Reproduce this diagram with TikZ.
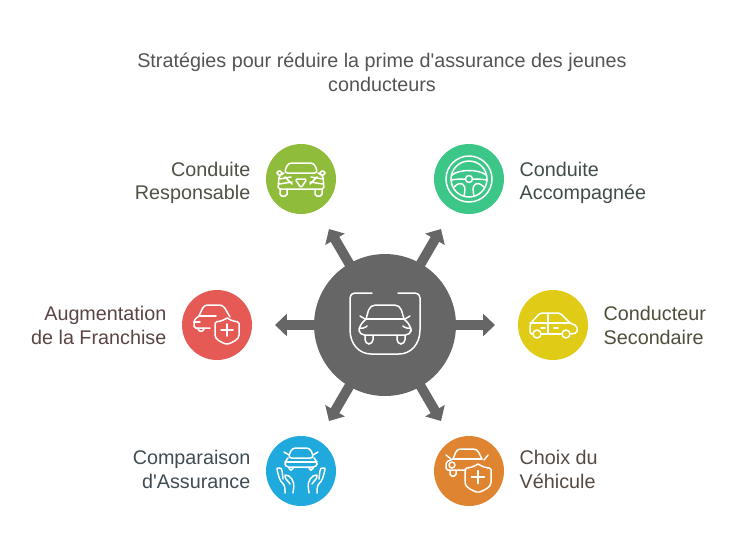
\documentclass[tikz,border=0pt]{standalone}
\usepackage{fontspec}
\setmainfont{Liberation Sans}[Ligatures=TeXOff]
\usetikzlibrary{arrows.meta,positioning}
\definecolor{hubgrey}{HTML}{666666}
\definecolor{discgreen}{HTML}{8FBC3A}
\definecolor{discteal}{HTML}{3CC687}
\definecolor{discred}{HTML}{E55A55}
\definecolor{discyellow}{HTML}{E0CC17}
\definecolor{discblue}{HTML}{1FA9DC}
\definecolor{discorange}{HTML}{DF8430}
\definecolor{textgreen}{HTML}{4F5145}
\definecolor{textteal}{HTML}{3F4D49}
\definecolor{textred}{HTML}{5A4444}
\definecolor{textyellow}{HTML}{4F4E3B}
\definecolor{textblue}{HTML}{3F4C53}
\definecolor{textorange}{HTML}{544A42}
\tikzset{
	disc/.style={circle, minimum size=1.4cm, inner sep=0pt},
	hub/.style={circle, minimum size=2.84cm, inner sep=0pt, fill=hubgrey},
	spoke/.style={draw=hubgrey, line width=5.6pt, shorten <=-3pt, -{Triangle[width=12.5pt,length=6.8pt]}},
	caption/.style={font=\fontsize{11.25}{13.6}\selectfont, inner sep=0pt},
	icon/.style={draw=white, line width=0.85pt, line cap=round, line join=round, rounded corners=1pt}
}
\def\shieldmark(#1,#2)(#3){
	\begin{scope}[shift={(#1,#2)}]
		\draw[icon] (0,-#3) .. controls (-#3*0.4,-#3*0.75) and (-#3*0.7,-#3*0.7) .. (-#3,-#3*0.7) -- (-#3,#3*0.3) .. controls (-#3,#3*0.8) and (-#3*0.4,#3*1.05) .. (0,#3*1.2) .. controls (#3*0.4,#3*1.05) and (#3,#3*0.8) .. (#3,#3*0.3) -- (#3,-#3*0.7) .. controls (#3*0.7,-#3*0.7) and (#3*0.4,-#3*0.75) .. (0,-#3);
		\draw[icon] (-#3*0.5,0) -- (#3*0.5,0) (0,-#3*0.5) -- (0,#3*0.5);
	\end{scope}
}
\begin{document}
\begin{tikzpicture}[x=0.02cm, y=-0.02cm]
	\useasboundingbox (0,0) rectangle (746,556);

	\node[font=\fontsize{11.25}{14}\selectfont, align=center, text=black!67] (title) at (382,72.5) {Stratégies pour réduire la prime d'assurance des jeunes\\conducteurs};

	%%%%% spokes and hub %%%%%
	\node[hub] (centre) at (385,325) {};
	\coordinate (tipgreen) at (329,229);
	\coordinate (tipteal) at (441,229);
	\coordinate (tipred) at (275,325);
	\coordinate (tipyellow) at (495,325);
	\coordinate (tipblue) at (329,421);
	\coordinate (tiporange) at (441,421);
	\foreach \tip in {tipgreen,tipteal,tipred,tipyellow,tipblue,tiporange}
		\draw[spoke] (centre) -- (\tip);

	%%%%% discs %%%%%
	\node[disc, fill=discgreen] (green) at (301,179) {};
	\node[disc, fill=discteal] (teal) at (469,179) {};
	\node[disc, fill=discred] (red) at (217,325) {};
	\node[disc, fill=discyellow] (yellow) at (553,325) {};
	\node[disc, fill=discblue] (blue) at (301,471) {};
	\node[disc, fill=discorange] (orange) at (469,471) {};

	%%%%% captions %%%%%
	\node[caption, left=0.3cm of green, yshift=-2.2pt, align=right, text=textgreen] (capgreen) {Conduite\\Responsable};
	\node[caption, right=0.3cm of teal, yshift=-2.2pt, align=left, text=textteal] (capteal) {Conduite\\Accompagnée};
	\node[caption, left=0.3cm of red, align=right, text=textred] (capred) {Augmentation\\de la Franchise};
	\node[caption, right=0.3cm of yellow, align=left, text=textyellow] (capyellow) {Conducteur\\Secondaire};
	\node[caption, left=0.3cm of blue, yshift=1.1pt, align=right, text=textblue] (capblue) {Comparaison\\d'Assurance};
	\node[caption, right=0.3cm of orange, yshift=1.1pt, align=left, text=textorange] (caporange) {Choix du\\Véhicule};

	%%%%% centre icon %%%%%
	\begin{scope}[shift={(385,325)}]
		\draw[icon] (-13,-32) -- (-32,-32) -- (-35,-29) -- (-35,3) .. controls (-35,19) and (-26,29) .. (-12,29) -- (12,29) .. controls (26,29) and (35,19) .. (35,3) -- (35,-29) -- (32,-32) -- (13,-32);
		\draw[icon, rounded corners=3pt] (-19,-6) -- (-15,-20) -- (15,-20) -- (19,-6);
		\draw[icon] (-19,-6) -- (19,-6);
		\draw[icon, rounded corners=3pt] (-19,-6) -- (-26,1) -- (-26,10) -- (26,10) -- (26,1) -- (19,-6);
		\draw[icon] (-26,3) -- (-20,3) -- (-18,1) (26,3) -- (20,3) -- (18,1);
		\draw[icon] (-25,-9) -- (-20,-6) (25,-9) -- (20,-6);
		\draw[icon, rounded corners=2.5pt] (-20,10) -- (-20,19) -- (-12,19) -- (-12,10);
		\draw[icon, rounded corners=2.5pt] (20,10) -- (20,19) -- (12,19) -- (12,10);
	\end{scope}

	%%%%% green car %%%%%
	\begin{scope}[shift={(301,179)}]
		\draw[icon, rounded corners=2pt] (-17,-6) -- (-13,-16) -- (13,-16) -- (17,-6) -- cycle;
		\draw[icon] (-17,-6) -- (-22,-3) -- (-23,10) -- (23,10) -- (22,-3) -- (17,-6);
		\draw[icon] (-24,-8) -- (-19,-8) -- (-19,-4) -- (-24,-4) -- cycle (24,-8) -- (19,-8) -- (19,-4) -- (24,-4) -- cycle;
		\draw[icon] (-6,0) -- (6,0) -- (0,9) -- cycle;
		\draw[icon] (-22,0) -- (-10,-2) (22,0) -- (10,-2) (-22,5) -- (-9,3) (22,5) -- (9,3) (-16,-2) -- (-9,5) (16,-2) -- (9,5);
		\draw[icon] (-21,10) -- (-21,17) -- (-14,17) -- (-14,10) (21,10) -- (21,17) -- (14,17) -- (14,10);
	\end{scope}

	%%%%% steering wheel %%%%%
	\begin{scope}[shift={(469,179)}]
		\draw[icon] (0,0) circle (23);
		\draw[icon] (0,0) circle (18);
		\draw[icon] (0,0) circle (3.5);
		\draw[icon] (-17,-4) .. controls (-10,-10) and (10,-10) .. (17,-4);
		\draw[icon] (-18,1) .. controls (-12,0) and (-8,0) .. (-3.5,0);
		\draw[icon] (18,1) .. controls (12,0) and (8,0) .. (3.5,0);
		\draw[icon] (-15,8) .. controls (-11,4) and (-8,4) .. (-5,6) .. controls (-4,9) and (-4,13) .. (-5,17);
		\draw[icon] (15,8) .. controls (11,4) and (8,4) .. (5,6) .. controls (4,9) and (4,13) .. (5,17);
	\end{scope}

	%%%%% red car %%%%%
	\begin{scope}[shift={(217,325)}]
		\draw[icon, rounded corners=2pt] (-18,-9) -- (-13,-20) -- (6,-20) -- (13,-8);
		\draw[icon] (-18,-9) -- (-1,-9);
		\draw[icon] (-18,-9) -- (-23,-5) -- (-23,3) -- (-7,3);
		\draw[icon] (-23,-3) -- (-17,-3);
		\draw[icon] (-19,3) -- (-19,6) -- (-13,6) -- (-13,3);
		\shieldmark(10,5)(12)
	\end{scope}

	%%%%% yellow suv %%%%%
	\begin{scope}[shift={(553,325)}]
		\draw[icon] (-20,9) -- (-23,9) -- (-23,-1) -- (-13,-12) -- (7,-12) -- (17,-2) -- (24,1) -- (24,8) -- (17,9);
		\draw[icon] (-12,9) -- (9,9);
		\draw[icon] (-16,9) circle (4) (13,9) circle (4);
		\draw[icon] (-23,-2) -- (17,-2);
		\draw[icon] (-5,-12) -- (-5,9);
		\draw[icon] (-12,3) -- (-8,3) (1,3) -- (5,3);
	\end{scope}

	%%%%% blue car and hands %%%%%
	\begin{scope}[shift={(301,471)}]
		\draw[icon, rounded corners=2pt] (-13,-13) -- (-9,-23) -- (9,-23) -- (13,-13) -- cycle;
		\draw[icon, rounded corners=2pt] (-13,-13) -- (-16,-10) -- (-16,-4) -- (16,-4) -- (16,-10) -- (13,-13);
		\draw[icon] (-16,-9) -- (16,-9);
		\draw[icon] (-17,-19) -- (-12,-16) (17,-19) -- (12,-16);
		\draw[icon] (-12,-4) -- (-12,-1) -- (-8,-1) -- (-8,-4) (12,-4) -- (12,-1) -- (8,-1) -- (8,-4);
		\foreach \s in {-1,1}
			\draw[icon, xscale=\s] (16,22) -- (16,18) .. controls (17,12) and (20,12) .. (22,6) -- (24,-1) .. controls (24,-3) and (20,-3) .. (19,-1) -- (18,8) (8,22) -- (7,14) .. controls (8,9) and (10,6) .. (14,4) .. controls (16,4) and (16,7) .. (14,9) -- (11,13);
	\end{scope}

	%%%%% orange car %%%%%
	\begin{scope}[shift={(469,471)}]
		\draw[icon, rounded corners=2pt] (-16,-12) -- (-12,-22) -- (8,-22) -- (13,-12);
		\draw[icon] (-16,-12) -- (13,-12);
		\draw[icon] (-16,-12) -- (-23,-9) -- (-23,-1) -- (-3,-1);
		\draw[icon] (-23,-16) -- (-18,-12) (19,-16) -- (15,-11);
		\draw[icon] (-17,-6) circle (3);
		\draw[icon] (-19,-1) -- (-19,5) -- (-13,5) -- (-13,-1);
		\shieldmark(9,6)(13)
	\end{scope}
\end{tikzpicture}
\end{document}
